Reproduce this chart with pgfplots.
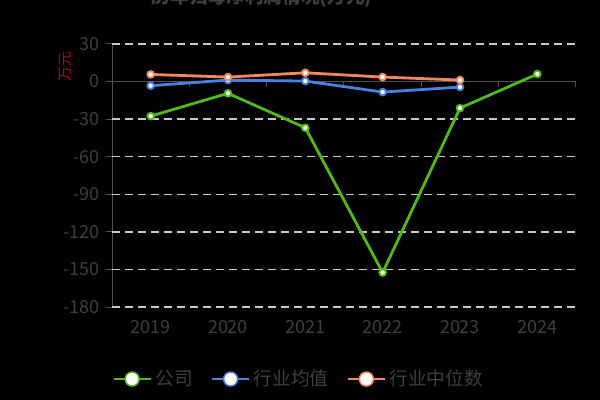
\documentclass[border=0pt]{standalone}
\usepackage{fontspec}
\setmainfont{Noto Sans CJK SC}
\usepackage{pgfplots}
\pgfplotsset{compat=1.18}
\definecolor{cgreen}{RGB}{82,185,28}
\definecolor{cblue}{RGB}{74,128,226}
\definecolor{corange}{RGB}{245,136,92}
\definecolor{axisgray}{RGB}{80,80,80}
\definecolor{labelgray}{RGB}{62,62,62}
\definecolor{gridgray}{RGB}{200,200,200}
\definecolor{unitred}{RGB}{170,12,12}
\begin{document}
\begin{tikzpicture}
\fill[black] (0pt,0pt) rectangle (450pt,300pt);
\path[use as bounding box] (0pt,0pt) rectangle (450pt,300pt);
\node[anchor=base, text=labelgray, font=\fontsize{14pt}{16pt}\selectfont\bfseries] at (196.5pt,297.5pt) {历年归母净利润情况(万元)};
\begin{axis}[
  at={(84pt,69.75pt)}, anchor=south west,
  scale only axis, width=348pt, height=197.25pt,
  xmin=-0.5, xmax=5.5, ymin=-180, ymax=30,
  axis y line=left, axis x line=bottom,
  axis line style={-},
  x axis line style={draw=none},
  y axis line style={draw=axisgray, line width=0.75pt},
  xtick={0,1,2,3,4,5},
  xticklabels={2019,2020,2021,2022,2023,2024},
  xtick style={draw=none},
  ytick={-180,-150,-120,-90,-60,-30,0,30},
  ytick style={draw=axisgray, line width=0.75pt},
  tick align=outside,
  major tick length=4.5pt,
  extra y ticks={-180,-150,-120,-90,-60,-30,30},
  extra y tick labels={},
  extra y tick style={grid=major, major tick length=0pt},
  grid style={draw=gridgray, line width=1.1pt, dash pattern=on 6pt off 3.75pt},
  tick label style={text=labelgray, font=\fontsize{13.5pt}{15pt}\selectfont},
  yticklabel style={xshift=-1.5pt},
  xticklabel style={yshift=-2pt},
  /pgf/number format/assume math mode=true,
  clip=false,
  every axis plot/.append style={line width=2.1pt, mark=*, mark size=2.5pt},
  legend image code/.code={
    \draw[#1, mark=none, line width=1.1pt] (0pt,0pt) -- (27.75pt,0pt);
    \draw[#1, fill=white, mark=none, line width=1.1pt] (13.9pt,0pt) circle (5.25pt);
  },
  legend columns=3,
  legend style={at={(0.405,-0.274)}, anchor=center, draw=none, fill=none,
    text=labelgray, font=\fontsize{14pt}{16pt}\selectfont,
    /tikz/every even column/.append style={column sep=11pt},
    nodes={inner sep=3pt}},
]
\draw[axisgray, line width=0.75pt] (axis cs:-0.5,0) -- (axis cs:5.5,0);
\pgfplotsinvokeforeach{0.5,1.5,2.5,3.5,4.5,5.5}{
  \draw[axisgray, line width=0.75pt] (axis cs:#1,0) -- ++(0pt,-3.75pt);
}
\addplot[color=cgreen, mark options={fill=white, draw=cgreen, line width=1.4pt}] coordinates {
(0,-27.6) (1,-9.4) (2,-36.9) (3,-152.5) (4,-21.2) (5,6.0)};
\addlegendentry{公司}
\addplot[color=cblue, mark options={fill=white, draw=cblue, line width=1.4pt}] coordinates {
(0,-3.3) (1,1.2) (2,0.4) (3,-8.4) (4,-4.4)};
\addlegendentry{行业均值}
\addplot[color=corange, mark options={fill=white, draw=corange, line width=1.4pt}] coordinates {
(0,5.7) (1,3.6) (2,7.0) (3,3.6) (4,1.2)};
\addlegendentry{行业中位数}
\end{axis}
\node[rotate=90, text=unitred, font=\fontsize{11pt}{13pt}\selectfont] at (49pt,250pt) {万元};
\end{tikzpicture}
\end{document}
